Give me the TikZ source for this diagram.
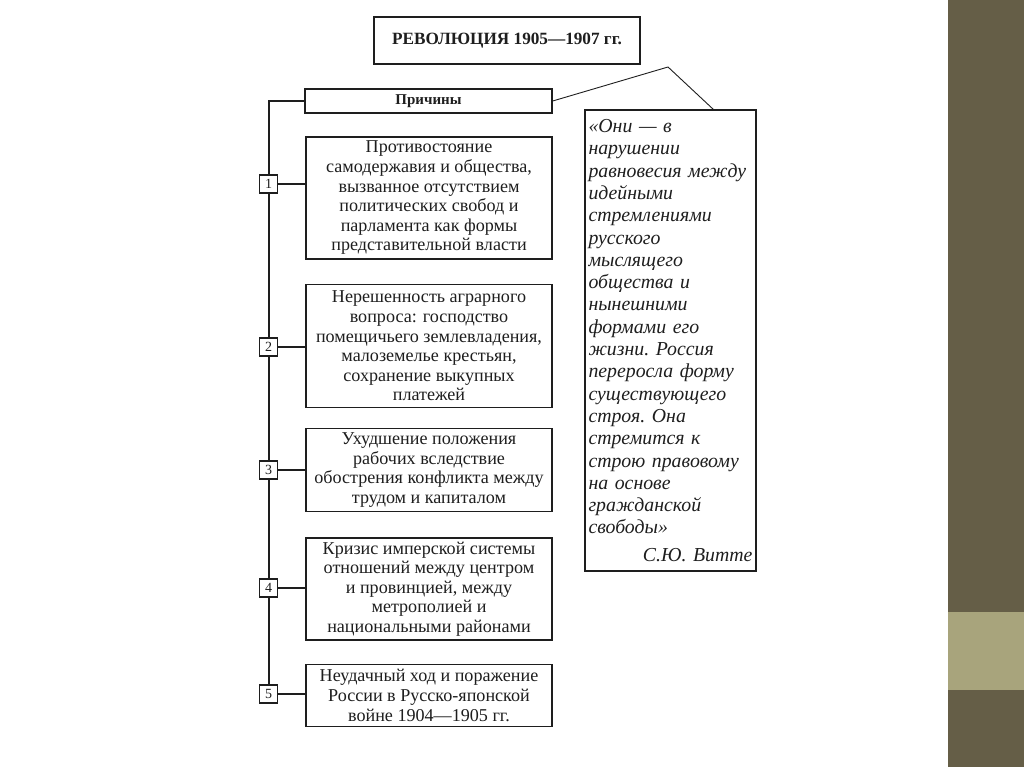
\documentclass[tikz,border=0pt]{standalone}
\usepackage{fontspec}
\setmainfont{Liberation Serif}
\usetikzlibrary{positioning}
\definecolor{sidecolor}{RGB}{101,94,71}
\definecolor{bandcolor}{RGB}{168,164,124}
\definecolor{inkcolor}{RGB}{30,30,30}

\tikzset{
  causebox/.style={draw=inkcolor,line width=1.4pt,minimum width=246pt,inner sep=0pt,
    align=center,text=inkcolor,font=\fontsize{18.1}{19.6}\selectfont},
  numbox/.style={draw=inkcolor,line width=1.1pt,fill=white,minimum width=18pt,
    minimum height=18pt,inner sep=0pt,text=inkcolor,font=\fontsize{14}{14}\selectfont},
  headbox/.style={draw=inkcolor,line width=1.4pt,inner sep=0pt,text=inkcolor},
  link/.style={inkcolor,line width=1.1pt}
}

\begin{document}
\begin{tikzpicture}[x=1pt,y=-1pt]
  \useasboundingbox (0,0) rectangle (1024,767);
  \fill[white] (0,0) rectangle (1024,767);

  % sidebar of the slide
  \fill[sidecolor] (948,0) rectangle (1024,767);
  \fill[bandcolor] (948,612) rectangle (1024,690);

  % title and heading
  \node[headbox,minimum width=266pt,minimum height=47pt,
    font=\bfseries\fontsize{17.2}{17.2}\selectfont] (title) at (507,40.5)
    {РЕВОЛЮЦИЯ 1905—1907 гг.};
  \node[headbox,minimum width=247pt,minimum height=24pt,
    font=\bfseries\fontsize{15}{15}\selectfont] (prichiny) at (428.5,101) {Причины};

  % causes
  \node[causebox,minimum height=122pt] (c1) at (429,198)
    {Противостояние\\самодержавия и общества,\\вызванное отсутствием\\
     политических свобод и\\парламента как формы\\представительной власти};
  \node[causebox,minimum height=123pt] (c2) at (429,346)
    {Нерешенность аграрного\\вопроса: господство\\помещичьего землевладения,\\
     малоземелье крестьян,\\сохранение выкупных\\платежей};
  \node[causebox,minimum height=83pt] (c3) at (429,470)
    {Ухудшение положения\\рабочих вследствие\\обострения конфликта между\\
     трудом и капиталом};
  \node[causebox,minimum height=102pt] (c4) at (429,589)
    {Кризис имперской системы\\отношений между центром\\и провинцией, между\\
     метрополией и\\национальными районами};
  \node[causebox,minimum height=62pt] (c5) at (429,695.5)
    {Неудачный ход и поражение\\России в Русско-японской\\войне 1904—1905 гг.};

  % trunk line
  \coordinate (trunk) at (269,101);
  \coordinate (trunkend) at (269,690);
  \draw[link] (prichiny.west) -- (trunk) -- (trunkend);

  % numbered links
  \foreach \i/\y in {1/184,2/347,3/470,4/588,5/694} {
    \node[numbox] (n\i) at (268.5,\y) {\i};
    \draw[link] (n\i.east) -- (n\i.east -| c\i.west);
  }

  % quotation
  \node[draw=inkcolor,line width=1.4pt,minimum width=171pt,minimum height=461pt,
    text width=164pt,align=left,inner sep=0pt,text=inkcolor,
    font=\itshape\frenchspacing\fontsize{19.8}{22.3}\selectfont] (quote) at (670.5,340.5)
    {«Они — в\\нарушении\\равновесия между\\идейными\\стремлениями\\русского\\
     мыслящего\\общества и\\нынешними\\формами его\\жизни. Россия\\
     переросла форму\\существующего\\строя. Она\\стремится к\\
     строю правовому\\на основе\\гражданской\\свободы»\\[5pt]
     \hspace*{\fill}С.Ю. Витте};
  \coordinate (apex) at (668,67);
  \coordinate (qjoin) at (714,110);
  \draw[inkcolor,line width=0.9pt] (prichiny.east) -- (apex) -- (qjoin);
\end{tikzpicture}
\end{document}
